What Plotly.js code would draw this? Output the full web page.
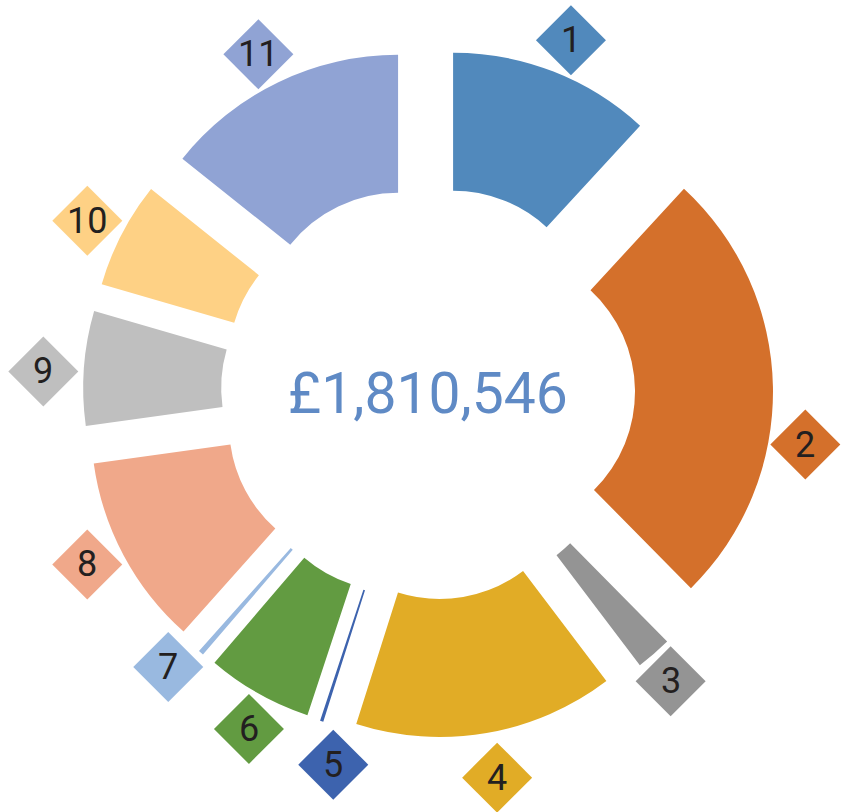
<!DOCTYPE html>
<html><head><meta charset="utf-8">
<script src="https://cdn.plot.ly/plotly-3.0.1.min.js"></script>
<style>html,body{margin:0;padding:0;background:#fff;}#chart{width:847px;height:812px;}</style>
</head><body><div id="chart"></div>
<script>
// ---- data ----
const categories = ['1','2','3','4','5','6','7','8','9','10','11'];
const amounts = [214499, 466216, 37720, 275354, 3521, 112153, 5532, 203183, 121206, 112656, 258506];
const sliceColors = ['#5189BC','#D4702B','#949494','#E1AC26','#3D63AE','#629B41','#99B9E0','#F0A88A','#BFBFBF','#FED185','#90A3D4'];

// ---- layout geometry ----
const W = 847, H = 812;
const box = {l: 83, r: 74, t: 48, b: 74};          // space the exploded doughnut lives in
const boxW = W - box.l - box.r, boxH = H - box.t - box.b;
const PULL = 0.25, HOLE = 0.5;
const R = Math.min(boxW, boxH) / (2 + 2 * PULL);
const CX = box.l + boxW / 2, CY = box.t + boxH / 2;
// label placement (angle nudge in degrees, distance in px from the pulled slice centre)
const labelNudgeDeg = [0.9, 10.7, 1.0, -0.5, -4.45, -1.7, 2.85, 1.7, -1.15, -0.7, -1.1];
const labelDistPx = [311.5, 312.8, 307.8, 321.8, 314.7, 311.7, 308.6, 312.5, 316.3, 312.8, 309.8];

const total = amounts.reduce((a, b) => a + b, 0);
let cum = 0;
const lx = [], ly = [];
amounts.forEach((v, i) => {
  const mid = (cum + v / 2) / total * 2 * Math.PI; cum += v;
  const a = mid + labelNudgeDeg[i] * Math.PI / 180;
  lx.push(CX + PULL * R * Math.sin(mid) + labelDistPx[i] * Math.sin(a));
  ly.push(CY - PULL * R * Math.cos(mid) - labelDistPx[i] * Math.cos(a));
});

const totalText = '£' + String(total).replace(/\B(?=(\d{3})+(?!\d))/g, ',');

const pie = {
  type: 'pie',
  labels: categories,
  values: amounts,
  sort: false,
  direction: 'clockwise',
  rotation: 0,
  hole: HOLE,
  pull: PULL,
  textinfo: 'none',
  hoverinfo: 'none',
  marker: {colors: sliceColors, line: {width: 0}},
  domain: {x: [box.l / W, (W - box.r) / W], y: [box.b / H, (H - box.t) / H]},
  showlegend: false
};

const diamonds = {
  type: 'scatter',
  mode: 'markers',
  x: lx, y: ly,
  xaxis: 'x', yaxis: 'y',
  marker: {symbol: 'diamond', size: 53.85, color: sliceColors, line: {width: 0}},
  hoverinfo: 'none',
  showlegend: false,
  cliponaxis: false
};

const annotations = categories.map((c, i) => ({
  x: lx[i], y: ly[i], xref: 'x', yref: 'y', text: c, showarrow: false,
  xanchor: 'center', yanchor: 'middle',
  font: {family: 'Roboto, sans-serif', size: 36, color: '#231F20'}
}));
annotations.push({
  x: (box.l + boxW / 2) / W, y: 1 - (box.t + boxH / 2) / H, xref: 'paper', yref: 'paper',
  text: totalText, showarrow: false,
  xanchor: 'center', yanchor: 'middle',
  font: {family: 'Roboto, sans-serif', size: 57, color: '#5F8AC5'}
});

const layout = {
  width: W, height: H,
  margin: {l: 0, r: 0, t: 0, b: 0, pad: 0},
  paper_bgcolor: '#ffffff', plot_bgcolor: 'rgba(0,0,0,0)',
  xaxis: {range: [0, W], visible: false, fixedrange: true, domain: [0, 1]},
  yaxis: {range: [H, 0], visible: false, fixedrange: true, domain: [0, 1]},
  annotations: annotations,
  showlegend: false
};

Plotly.newPlot('chart', [diamonds, pie], layout, {displayModeBar: false, staticPlot: true});
</script>
</body></html>
